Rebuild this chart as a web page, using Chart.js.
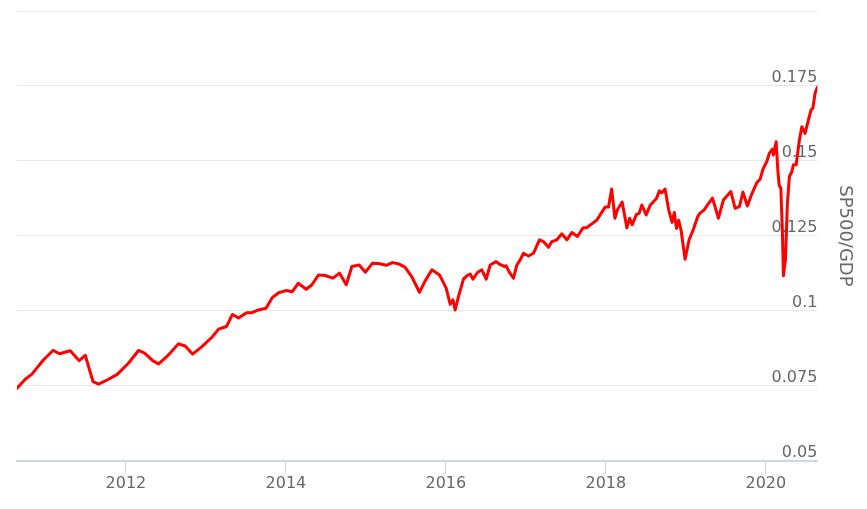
<!DOCTYPE html>
<html><head><meta charset="utf-8">
<script src="https://cdn.jsdelivr.net/npm/chart.js@4"></script>
<style>html,body{margin:0;padding:0;background:#fff}</style>
</head><body>
<canvas id="c" width="867" height="509"></canvas>
<script>
const seriesName = 'SP500/GDP';
const dates = [
2010.638,2010.741,2010.825,2010.970,2011.088,2011.170,2011.304,2011.416,2011.491,2011.588,
2011.658,2011.783,2011.895,2012.033,2012.158,2012.233,2012.338,2012.408,2012.513,2012.658,
2012.741,2012.833,2012.950,2013.075,2013.158,2013.258,2013.331,2013.408,2013.508,2013.575,
2013.658,2013.751,2013.829,2013.914,2014.008,2014.079,2014.154,2014.254,2014.325,2014.408,
2014.491,2014.588,2014.670,2014.754,2014.825,2014.916,2014.995,2015.083,2015.158,2015.254,
2015.333,2015.416,2015.491,2015.575,2015.670,2015.741,2015.825,2015.920,2016.004,2016.054,
2016.088,2016.116,2016.158,2016.220,2016.263,2016.304,2016.338,2016.395,2016.450,2016.504,
2016.554,2016.629,2016.688,2016.729,2016.754,2016.795,2016.845,2016.888,2016.929,2016.970,
2017.033,2017.095,2017.170,2017.220,2017.283,2017.325,2017.388,2017.450,2017.513,2017.575,
2017.645,2017.713,2017.763,2017.825,2017.888,2017.929,2017.991,2018.033,2018.073,2018.113,
2018.145,2018.204,2018.263,2018.298,2018.329,2018.383,2018.416,2018.450,2018.504,2018.554,
2018.595,2018.633,2018.670,2018.700,2018.741,2018.785,2018.828,2018.856,2018.883,2018.911,
2018.941,2018.991,2019.041,2019.095,2019.148,2019.179,2019.229,2019.263,2019.333,2019.408,
2019.470,2019.563,2019.616,2019.670,2019.714,2019.770,2019.820,2019.888,2019.929,2019.963,
2020.013,2020.045,2020.083,2020.095,2020.129,2020.150,2020.166,2020.188,2020.208,2020.220,
2020.245,2020.270,2020.295,2020.325,2020.345,2020.379,2020.420,2020.450,2020.491,2020.533,
2020.566,2020.588,2020.616,2020.645
];
const ratio = [
0.0742,0.0772,0.0789,0.0837,0.0868,0.0857,0.0867,0.0834,0.0852,0.0764,
0.0756,0.0772,0.0789,0.0826,0.0868,0.0859,0.0833,0.0823,0.0848,0.0890,
0.0883,0.0856,0.0881,0.0912,0.0939,0.0948,0.0988,0.0976,0.0994,0.0994,
0.1003,0.1009,0.1044,0.1061,0.1068,0.1064,0.1092,0.1072,0.1087,0.1120,
0.1118,0.1109,0.1126,0.1087,0.1148,0.1153,0.1129,0.1159,0.1158,0.1152,
0.1161,0.1156,0.1145,0.1113,0.1062,0.1100,0.1137,0.1120,0.1076,0.1022,
0.1037,0.1003,0.1048,0.1106,0.1117,0.1123,0.1106,0.1128,0.1137,0.1106,
0.1153,0.1164,0.1153,0.1148,0.1150,0.1128,0.1109,0.1153,0.1170,0.1192,
0.1183,0.1192,0.1237,0.1231,0.1212,0.1231,0.1237,0.1257,0.1237,0.1261,
0.1248,0.1276,0.1278,0.1290,0.1303,0.1320,0.1346,0.1346,0.1406,0.1309,
0.1337,0.1363,0.1277,0.1309,0.1287,0.1322,0.1325,0.1353,0.1320,0.1352,
0.1364,0.1375,0.1400,0.1394,0.1406,0.1338,0.1295,0.1328,0.1275,0.1302,
0.1268,0.1172,0.1237,0.1272,0.1314,0.1326,0.1337,0.1350,0.1376,0.1309,
0.1370,0.1398,0.1342,0.1348,0.1396,0.1350,0.1387,0.1428,0.1439,0.1472,
0.1498,0.1526,0.1539,0.1520,0.1564,0.1470,0.1420,0.1409,0.1259,0.1117,
0.1170,0.1359,0.1448,0.1464,0.1487,0.1487,0.1570,0.1614,0.1592,0.1637,
0.1670,0.1676,0.1726,0.1746
];
const xTickYears = [2012, 2014, 2016, 2018, 2020];
const yTickValues = [0.05, 0.075, 0.1, 0.125, 0.15, 0.175, 0.2];
const yTickLabels = ['0.05', '0.075', '0.1', '0.125', '0.15', '0.175', ''];

const labelFont = {family: 'DejaVu Sans', size: 16};
const points = dates.map((d, i) => ({x: d, y: ratio[i]}));

new Chart(document.getElementById('c'), {
  type: 'line',
  data: {datasets: [{
    label: seriesName, data: points,
    borderColor: '#ff0000', borderWidth: 3, pointRadius: 0, tension: 0,
    fill: false, borderJoinStyle: 'round', borderCapStyle: 'round'
  }]},
  options: {
    responsive: false, animation: false,
    layout: {padding: {left: 17, top: 11, right: 8, bottom: 16}},
    plugins: {legend: {display: false}, tooltip: {enabled: false}},
    scales: {
      x: {
        type: 'linear', position: 'bottom',
        min: dates[0], max: dates[dates.length - 1],
        afterBuildTicks: s => { s.ticks = xTickYears.map(v => ({value: v})); },
        grid: {drawOnChartArea: false, drawTicks: true, tickLength: 13, color: '#ccd6eb', lineWidth: 1},
        border: {display: true, color: '#ccd6eb', width: 2},
        ticks: {color: '#666666', font: labelFont, padding: 0, maxRotation: 0, autoSkip: false,
                callback: v => String(v)}
      },
      y: {
        type: 'linear', position: 'right', min: 0.05, max: 0.2,
        afterBuildTicks: s => { s.ticks = yTickValues.map(v => ({value: v})); },
        grid: {color: '#e6e6e6', lineWidth: 1, drawTicks: false},
        border: {display: false},
        ticks: {mirror: true, padding: 0, crossAlign: 'near', labelOffset: -8,
                color: '#666666', font: labelFont,
                callback: v => {
                  const i = yTickValues.findIndex(t => Math.abs(t - v) < 1e-9);
                  return i >= 0 ? yTickLabels[i] : '';
                }},
        title: {display: true, text: seriesName, color: '#666666',
                font: {family: 'DejaVu Sans', size: 18}, padding: {top: 4, bottom: 16}}
      }
    }
  }
});
</script>
</body></html>
